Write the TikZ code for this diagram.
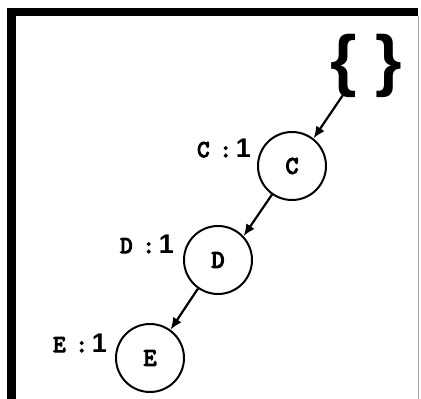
\documentclass[tikz,border=0pt]{standalone}
\usepackage{fontspec}
\setmainfont{Liberation Serif}
\newfontfamily\courfont{Latin Modern Mono}[FakeBold=5]
\newfontfamily\arialfont{Liberation Sans}
\usetikzlibrary{arrows.meta}
\tikzset{
  tnode/.style={circle, draw, line width=2pt, minimum size=68pt, inner sep=0pt,
    font=\courfont\fontsize{25}{25}\selectfont},
  countlbl/.style={anchor=base west, inner sep=0pt,
    font=\courfont\fontsize{24}{24}\selectfont},
  link/.style={line width=2.2pt, -{Latex[length=12pt,width=10pt]}},
  bar/.style={fill=black, draw=none}
}
\newcommand{\one}{\kern4pt{\arialfont\bfseries\fontsize{27}{27}\selectfont 1}}
\newcommand{\cn}{\kern10pt:}
\begin{document}
\begin{tikzpicture}[x=1pt,y=-1pt]
\useasboundingbox (0,0) rectangle (421,399);
% frame
\fill[bar] (7,8) rectangle (418,16);
\fill[bar] (7,8) rectangle (16,399);
\draw[gray!70, line width=1pt] (418,16) -- (418,399);
% root braces
\node[inner sep=0pt, font=\arialfont\bfseries\fontsize{68}{68}\selectfont] (root) at (366,66) {\{ \}};
\coordinate (rs) at (343,95);
% tree nodes
\node[tnode] (C) at (292,166) {C};
\node[tnode] (D) at (218,260) {D};
\node[tnode] (E) at (150,358) {E};
% count labels
\node[countlbl] (lc) at (197,157) {C\cn\one};
\node[countlbl] (ld) at (120,253) {D\cn\one};
\node[countlbl] (le) at (53,352) {E\cn\one};
% connectors
\draw[link] (rs) -- (C.52);
\draw[link] (C.235) -- (D.43);
\draw[link] (D.235) -- (E.54);
\end{tikzpicture}
\end{document}
